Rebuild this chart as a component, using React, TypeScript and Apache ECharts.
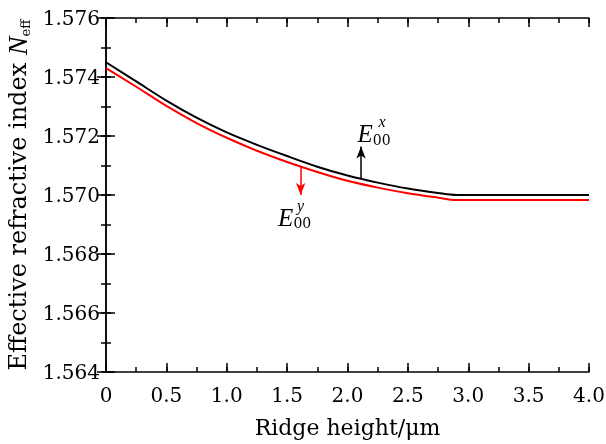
import React, { useEffect, useRef } from "react";
import * as echarts from "echarts";

const ridgeHeight = [0, 0.25, 0.5, 0.75, 1.0, 1.25, 1.5, 1.75, 2.0, 2.25, 2.5, 2.75, 2.9, 3.0, 3.5, 4.0];
const neffX = [1.5745, 1.57385, 1.5732, 1.57262, 1.57212, 1.5717, 1.57132, 1.57096, 1.57066, 1.57042, 1.57022, 1.57007, 1.57, 1.57, 1.57, 1.57];
const neffY = [1.5743, 1.57367, 1.57302, 1.57244, 1.57194, 1.5715, 1.57112, 1.57078, 1.57048, 1.57025, 1.57006, 1.56991, 1.56983, 1.56983, 1.56983, 1.56983];

// arrow annotations: [x, yStart, yEnd]
const arrowX = [2.112, 1.57053, 1.57164];
const arrowY = [1.612, 1.57096, 1.5700];

const FONT = "DejaVu Serif";

export default function App() {
  const ref = useRef<HTMLDivElement>(null);
  useEffect(() => {
    const chart = echarts.init(ref.current!, undefined, { renderer: "svg" });
    const pts = (ys: number[]) => ridgeHeight.map((x, i) => [x, ys[i]]);
    const axisLine = { show: true, lineStyle: { color: "#000", width: 1.5 } };
    const tick = { show: true, inside: true, length: 9, lineStyle: { color: "#000", width: 1.5 } };
    const minorTick = { show: true, inside: true, length: 5, lineStyle: { color: "#000", width: 1.5 } };
    const eRich = {
      e: { fontFamily: "Liberation Serif", fontStyle: "italic", fontSize: 25, lineHeight: 26, color: "#000" },
      s: { fontFamily: FONT, fontSize: 14, lineHeight: 12, verticalAlign: "bottom", color: "#000" },
      sup: { fontFamily: "Liberation Serif", fontStyle: "italic", fontSize: 16, color: "#000" },
    };
    const mp = (coord: number[], text: string, offset: number[]) => ({
      coord,
      symbol: "circle",
      symbolSize: 1,
      itemStyle: { color: "transparent" },
      label: { show: true, position: "inside", offset, formatter: text, rich: eRich },
    });
    const xBase = { type: "value", min: 0, max: 4, splitLine: { show: false } };
    const yBase = { type: "value", min: 1.564, max: 1.576, splitLine: { show: false } };
    const minorX = (position: string) => ({
      ...xBase,
      position,
      interval: 0.25,
      axisLine: { show: false },
      axisTick: minorTick,
      axisLabel: { show: false },
    });
    const minorY = (position: string) => ({
      ...yBase,
      position,
      interval: 0.001,
      axisLine: { show: false },
      axisTick: minorTick,
      axisLabel: { show: false },
    });
    chart.setOption({
      animation: false,
      grid: { left: 106, right: 17, top: 18, bottom: 72, containLabel: false, outerBoundsMode: "none" },
      xAxis: [
        {
          ...xBase,
          interval: 0.5,
          axisLine,
          axisTick: tick,
          axisLabel: {
            margin: 13,
            fontFamily: FONT,
            fontSize: 20,
            color: "#000",
            formatter: (v: number) => (v === 0 ? "0" : v.toFixed(1)),
          },
          name: "Ridge height/\u03bcm",
          nameLocation: "middle",
          nameGap: 44,
          nameTextStyle: { fontFamily: FONT, fontSize: 22, color: "#000" },
        },
        {
          ...xBase,
          position: "top",
          interval: 0.5,
          axisLine,
          axisTick: tick,
          axisLabel: { show: false },
        },
        minorX("bottom"),
        minorX("top"),
      ],
      yAxis: [
        {
          ...yBase,
          interval: 0.002,
          axisLine,
          axisTick: tick,
          axisLabel: {
            margin: 6,
            fontFamily: FONT,
            fontSize: 20,
            color: "#000",
            formatter: (v: number) => v.toFixed(3),
          },
          name: "{a|Effective refractive index }{n|N}{s|eff}",
          nameLocation: "middle",
          nameGap: 72,
          nameRotate: 90,
          nameTextStyle: {
            rich: {
              a: { fontFamily: FONT, fontSize: 24, lineHeight: 28, color: "#000" },
              n: { fontFamily: "Liberation Serif", fontStyle: "italic", fontSize: 28, lineHeight: 28, color: "#000" },
              s: { fontFamily: FONT, fontSize: 13, lineHeight: 16, verticalAlign: "bottom", color: "#000" },
            },
          },
        },
        {
          ...yBase,
          position: "right",
          interval: 0.002,
          axisLine,
          axisTick: tick,
          axisLabel: { show: false },
        },
        minorY("left"),
        minorY("right"),
      ],
      series: [
        {
          type: "line",
          data: pts(neffX),
          smooth: 0.3,
          showSymbol: false,
          lineStyle: { color: "#000", width: 2 },
          markLine: {
            silent: true,
            symbol: ["none", "arrow"],
            symbolSize: [7, 12],
            label: { show: false },
            lineStyle: { color: "#000", width: 1.5, type: "solid" },
            data: [[{ coord: [arrowX[0], arrowX[1]] }, { coord: [arrowX[0], arrowX[2]] }]],
          },
          markPoint: {
            silent: true,
            data: [
              mp([arrowX[0], arrowX[2]], "{e|E}{s|00}", [13, -13]),
              mp([arrowX[0], arrowX[2]], "{sup|x}", [21, -25]),
            ],
          },
        },
        {
          type: "line",
          data: pts(neffY),
          smooth: 0.3,
          showSymbol: false,
          lineStyle: { color: "#ff0000", width: 2 },
          markLine: {
            silent: true,
            symbol: ["none", "arrow"],
            symbolSize: [7, 12],
            label: { show: false },
            lineStyle: { color: "#ff0000", width: 1.5, type: "solid" },
            data: [[{ coord: [arrowY[0], arrowY[1]] }, { coord: [arrowY[0], arrowY[2]] }]],
          },
          markPoint: {
            silent: true,
            data: [
              mp([arrowY[0], arrowY[2]], "{e|E}{s|00}", [-6, 22]),
              mp([arrowY[0], arrowY[2]], "{sup|y}", [0, 10]),
            ],
          },
        },
      ],
    });
    return () => chart.dispose();
  }, []);
  return <div ref={ref} style={{ position: "fixed", left: 0, top: 0, width: 606, height: 444 }} />;
}
